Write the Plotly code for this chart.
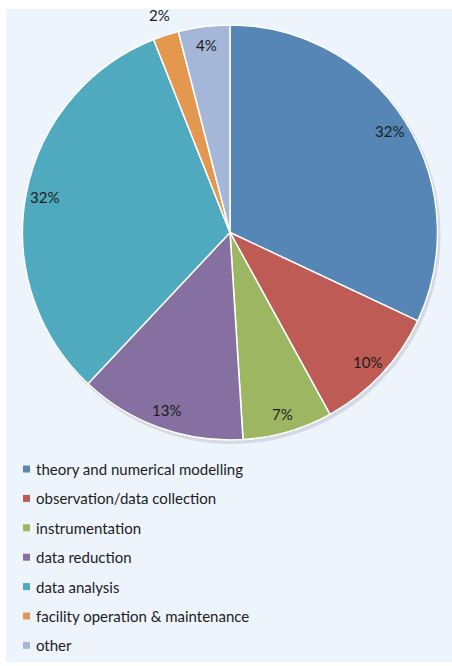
import math
import plotly.graph_objects as go

# Share of time by activity (percent)
categories = [
    "theory and numerical modelling",
    "observation/data collection",
    "instrumentation",
    "data reduction",
    "data analysis",
    "facility operation & maintenance",
    "other",
]
values = [32, 10, 7, 13, 32, 2, 4]
colors = ["#5586B6", "#BE5B55", "#9CB661", "#8570A1", "#4FA9BF", "#E3974F", "#A5B7D8"]

W, H = 452, 666
FONT = "Lato, 'Open Sans', sans-serif"
TEXT = "#1c1c1c"

# pie geometry in pixels
cx, cy, R = 230, 232.5, 207.5


def px(x):
    return x / W


def py(y):
    return 1 - y / H


fig = go.Figure()

fig.add_trace(go.Pie(
    labels=categories,
    values=values,
    sort=False,
    direction="clockwise",
    rotation=0,
    marker=dict(colors=colors, line=dict(color="white", width=1.5)),
    textinfo="none",
    hoverinfo="label+percent",
    showlegend=False,
    domain=dict(x=[px(cx - R), px(cx + R)], y=[py(cy + R), py(cy - R)]),
))

shapes = [
    # panel background
    dict(type="rect", xref="paper", yref="paper", layer="below",
         x0=px(6), x1=px(452), y0=py(662), y1=py(9),
         fillcolor="#EEF4FC", line=dict(width=0)),
    # soft drop shadow under the pie
    dict(type="circle", xref="paper", yref="paper", layer="below",
         x0=px(cx - R + 1), x1=px(cx + R + 3), y0=py(cy + R + 4), y1=py(cy - R + 1),
         fillcolor="rgba(90,100,120,0.18)", line=dict(width=0)),
]

annotations = []
total = sum(values)
cum = 0
for v in values:
    theta = 2 * math.pi * (cum + v / 2) / total
    cum += v
    frac = v / total
    r = 0.91 * R if frac >= 0.03 else 1.1 * R
    x = cx + r * math.sin(theta)
    y = cy - r * math.cos(theta)
    annotations.append(dict(
        x=px(x), y=py(y), xref="paper", yref="paper",
        text=f"{round(frac * 100)}%", showarrow=False,
        font=dict(family=FONT, size=15, color=TEXT),
        xanchor="center", yanchor="middle",
    ))

# legend: square swatch + label per row
row0, step = 469, 29.4
for i, (name, col) in enumerate(zip(categories, colors)):
    yc = row0 + i * step
    shapes.append(dict(type="rect", xref="paper", yref="paper",
                       x0=px(23), x1=px(30), y0=py(yc + 3.5), y1=py(yc - 3.5),
                       fillcolor=col, line=dict(width=0)))
    annotations.append(dict(
        x=px(34), y=py(yc), xref="paper", yref="paper",
        text=name, showarrow=False, xanchor="left", yanchor="middle",
        font=dict(family=FONT, size=15, color=TEXT),
    ))

fig.update_layout(
    width=W, height=H,
    margin=dict(l=0, r=0, t=0, b=0),
    paper_bgcolor="white",
    plot_bgcolor="white",
    shapes=shapes,
    annotations=annotations,
    showlegend=False,
)

fig.write_html("out.html")
